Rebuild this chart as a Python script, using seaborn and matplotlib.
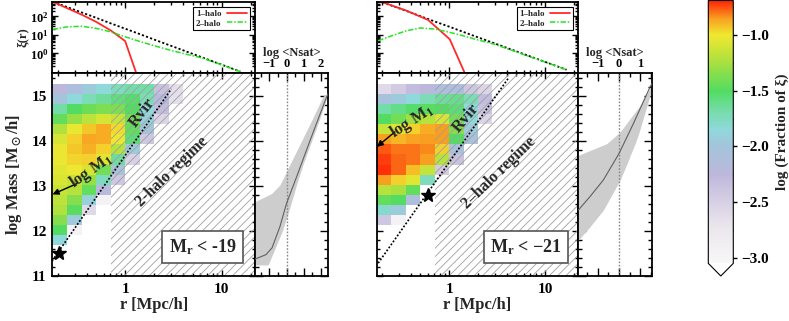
import numpy as np
import matplotlib
matplotlib.use("Agg")
import matplotlib.pyplot as plt
import seaborn as sns
from matplotlib.colors import LinearSegmentedColormap, Normalize
from matplotlib.ticker import (FixedLocator, MultipleLocator, LogLocator,
                               NullFormatter, FuncFormatter, LogFormatterMathtext)
from matplotlib.lines import Line2D

nan = np.nan

# ---------------- data ----------------
# bins of the fraction map (log r, log M)
logr_edges = [-0.75, -0.60, -0.45, -0.30, -0.15, 0.00, 0.15, 0.30, 0.45, 0.60]
mass_edges = [15.275, 15.05, 14.825, 14.60, 14.375, 14.15, 13.925, 13.70, 13.475,
              13.25, 13.025, 12.80, 12.575, 12.35, 12.125, 11.90, 11.675]

# log(fraction of xi), rows from the highest mass bin downwards
frac_m19 = [
    [-2.25, -2.10, -1.95, -1.85, -1.75, -1.68, -1.68, -2.35, -2.65],
    [-2.00, -1.85, -1.72, -1.65, -1.58, -1.52, -1.72, -2.20, -2.65],
    [-1.68, -1.50, -1.42, -1.38, -1.38, -1.50, -1.85, -2.30, nan],
    [-1.45, -1.30, -1.18, -1.10, -1.15, -1.40, -1.90, -2.55, nan],
    [-1.22, -1.03, -0.93, -0.88, -0.97, -1.45, -2.00, nan, nan],
    [-1.08, -0.95, -0.87, -0.88, -1.02, -1.55, -2.40, nan, nan],
    [-1.03, -0.93, -0.89, -0.95, -1.20, -1.95, nan, nan, nan],
    [-1.03, -0.96, -0.95, -1.05, -1.65, -2.50, nan, nan, nan],
    [-1.05, -1.02, -1.10, -1.40, -2.05, nan, nan, nan, nan],
    [-1.08, -1.15, -1.30, -1.75, -2.40, nan, nan, nan, nan],
    [-1.15, -1.20, -1.45, -2.20, nan, nan, nan, nan, nan],
    [-1.18, -1.35, -1.90, -2.95, nan, nan, nan, nan, nan],
    [-1.22, -1.48, -2.60, nan, nan, nan, nan, nan, nan],
    [-1.35, -1.95, nan, nan, nan, nan, nan, nan, nan],
    [-1.50, -2.95, nan, nan, nan, nan, nan, nan, nan],
    [-1.85, nan, nan, nan, nan, nan, nan, nan, nan],
]
frac_m21 = [
    [-2.60, -2.45, -2.30, -2.25, -2.10, -2.10, -2.40, -2.55, nan],
    [-2.05, -1.95, -1.85, -1.72, -1.65, -1.62, -1.72, -2.30, nan],
    [-1.68, -1.60, -1.52, -1.48, -1.50, -1.55, -1.85, -2.35, nan],
    [-1.50, -1.40, -1.28, -1.20, -1.10, -1.40, -1.85, -2.55, nan],
    [-1.15, -1.05, -0.95, -0.88, -0.85, -1.35, -1.95, nan, nan],
    [-0.85, -0.90, -0.86, -0.85, -0.85, -1.50, -2.05, nan, nan],
    [-0.76, -0.80, -0.80, -0.82, -0.95, -2.05, nan, nan, nan],
    [-0.72, -0.78, -0.80, -0.85, -1.20, -2.35, nan, nan, nan],
    [-0.70, -0.78, -0.92, -1.15, -2.45, nan, nan, nan, nan],
    [-0.85, -0.95, -1.05, -1.75, nan, nan, nan, nan, nan],
    [-1.20, -1.25, -1.45, nan, nan, nan, nan, nan, nan],
    [-1.45, -1.50, -2.10, nan, nan, nan, nan, nan, nan],
    [-1.80, -1.95, nan, nan, nan, nan, nan, nan, nan],
    [-2.40, -2.95, nan, nan, nan, nan, nan, nan, nan],
    [nan, nan, nan, nan, nan, nan, nan, nan, nan],
    [nan, nan, nan, nan, nan, nan, nan, nan, nan],
]

# correlation function panels (log r, log xi)
tot_lr_m19 = [-0.75, -0.6, -0.45, -0.3, -0.15, 0.0, 0.15, 0.3, 0.45, 0.6, 0.8, 1.0, 1.19]
tot_m19 = [2.80, 2.51, 2.22, 1.93, 1.63, 1.34, 1.05, 0.75, 0.46, 0.17, -0.22, -0.61, -0.98]
one_lr_m19 = [-0.75, -0.45, -0.3, -0.15, 0.0, 0.15]
one_m19 = [2.80, 2.10, 1.71, 1.25, 0.67, -1.60]
two_lr_m19 = [-0.75, -0.6, -0.45, -0.3, -0.15, 0.0, 0.15, 0.3, 0.45, 0.6, 0.8, 1.0, 1.19]
two_m19 = [1.30, 1.44, 1.47, 1.36, 1.17, 0.90, 0.65, 0.42, 0.20, 0.00, -0.25, -0.62, -0.99]

tot_lr_m21 = [-0.737, -0.6, -0.45, -0.3, -0.15, 0.0, 0.15, 0.3, 0.47, 0.7, 1.0, 1.22]
tot_m21 = [2.85, 2.59, 2.31, 2.02, 1.73, 1.45, 1.16, 0.87, 0.55, 0.11, -0.46, -0.88]
one_lr_m21 = [-0.737, -0.45, -0.218, 0.006, 0.2]
one_m21 = [2.85, 2.33, 1.81, 0.77, -1.50]
two_lr_m21 = [-0.737, -0.6, -0.45, -0.3, -0.15, 0.0, 0.15, 0.3, 0.47, 0.7, 1.0, 1.22]
two_m21 = [0.69, 0.95, 1.22, 1.38, 1.32, 1.15, 0.95, 0.73, 0.50, 0.08, -0.47, -0.88]

# log <Nsat>(M) with its uncertainty band
nsat_M_m19 = [11.37, 11.47, 11.62, 12.09, 12.61, 13.20, 14.00, 14.98, 15.10]
nsat_m19 = [-1.85, -1.20, -0.85, -0.39, 0.00, 0.59, 1.37, 2.35, 2.50]
band_M_m19 = [11.24, 11.50, 12.00, 12.50, 12.55, 12.64, 12.83, 13.02, 13.50, 14.00, 14.50, 15.00, 15.08]
band_lo_m19 = [-3.0, -3.0, -3.0, -3.0, -3.0, -1.90, -0.88, -0.39, 0.23, 0.88, 1.53, 2.15, 2.50]
band_hi_m19 = [-1.08, -0.79, -0.24, 0.18, 0.22, 0.29, 0.44, 0.58, 0.99, 1.47, 1.95, 2.40, 2.50]

nsat_M_m21 = [12.46, 12.76, 13.13, 13.72, 14.39, 15.20, 15.40]
nsat_m21 = [-1.92, -1.37, -0.74, 0.00, 0.68, 1.46, 1.70]
band_M_m21 = [11.50, 11.79, 12.09, 12.46, 13.13, 13.60, 13.68, 13.94, 14.20, 14.79, 15.24, 15.40]
band_lo_m21 = [-3.0, -3.0, -3.0, -3.0, -3.0, -3.0, -1.92, -0.58, 0.05, 0.99, 1.54, 1.75]
band_hi_m21 = [-2.50, -1.92, -1.37, -0.74, 0.05, 0.47, 0.53, 0.76, 0.95, 1.32, 1.61, 1.75]

# virial radius lines, characteristic points, arrows
rvir_r_m19 = [0.176, 3.0]
rvir_M_m19 = [11.33, 15.16]
rvir_r_m21 = [0.183, 4.1]
rvir_M_m21 = [11.28, 15.39]
star_m19 = (0.209, 11.51)
star_m21 = (0.605, 12.79)
logM1_m19 = 12.81
logM1_m21 = 13.87

cbar_ticks = [-3.0, -2.5, -2.0, -1.5, -1.0]
xi_ticks = [1, 10, 100]
r_ticks = [1, 10]
nsat_ticks_m19 = [-1, 0, 1, 2]
nsat_ticks_m21 = [-1, 0, 1]
panel_labels = ["M$_r$ < -19", "M$_r$ < \u221221"]

# ---------------- style ----------------
sns.set_theme(style="ticks")
plt.rcParams.update({
    "font.family": ["Liberation Serif", "DejaVu Serif"],
    "font.weight": "bold",
    "axes.labelweight": "bold",
    "mathtext.fontset": "custom",
    "mathtext.rm": "Liberation Serif:bold",
    "mathtext.it": "Liberation Serif:italic:bold",
    "mathtext.bf": "Liberation Serif:bold",
    "mathtext.default": "rm",
    "mathtext.fallback": "stix",
    "axes.unicode_minus": True,
    "hatch.linewidth": 0.6,
    "hatch.color": "#a0a0a0",
    "axes.edgecolor": "black",
    "axes.linewidth": 1.3,
    "xtick.color": "black",
    "ytick.color": "black",
})

cmap = LinearSegmentedColormap.from_list("frac", [
    (0.000, "#f7f7f7"), (0.127, "#ece8ee"), (0.233, "#d8d0e4"),
    (0.339, "#bcb8dc"), (0.445, "#a4c4dc"), (0.508, "#90d8dc"),
    (0.572, "#78dcb0"), (0.657, "#52dc62"), (0.763, "#a8e040"),
    (0.869, "#f0e830"), (0.932, "#f8a020"), (1.000, "#ff2808")])
cmap.set_under("white")
cmap.set_bad((1, 1, 1, 0))
norm = Normalize(vmin=-3.05, vmax=-0.69)

W, H = 789, 321
fig = plt.figure(figsize=(W / 100, H / 100), dpi=100)


def rect(x0, y0, x1, y1):
    return [x0 / W, 1 - y1 / H, (x1 - x0) / W, (y1 - y0) / H]


def style(ax, maj=4.3, mnr=2.2):
    ax.tick_params(which="both", direction="in", top=True, right=True,
                   bottom=True, left=True, width=1.0, colors="black")
    ax.tick_params(which="major", length=maj)
    ax.tick_params(which="minor", length=mnr)
    for s in ax.spines.values():
        s.set_linewidth(1.3)
        s.set_color("black")


XLIM = (10 ** -0.753, 10 ** 1.342)
YLIM = (11.0, 15.52)


def xi_panel(ax, tl, tv, ol, ov, wl, wv, show_y):
    sns.lineplot(x=10 ** np.array(tl), y=10 ** np.array(tv), ax=ax, color="black",
                 lw=1.3, dashes=False, estimator=None, sort=False)
    ax.lines[-1].set_dashes((1.2, 1.2))
    sns.lineplot(x=10 ** np.array(ol), y=10 ** np.array(ov), ax=ax, color="#ff2a2a",
                 lw=1.3, estimator=None, sort=False)
    sns.lineplot(x=10 ** np.array(wl), y=10 ** np.array(wv), ax=ax, color="#22e622",
                 lw=1.1, estimator=None, sort=False)
    ax.lines[-1].set_dashes((3.5, 1.2, 1, 1.2))
    ax.set_xscale("log")
    ax.set_yscale("log")
    ax.set_xlim(*XLIM)
    ax.set_ylim(10 ** -1.04, 10 ** 2.81)
    ax.xaxis.set_major_locator(FixedLocator(r_ticks))
    ax.xaxis.set_minor_locator(LogLocator(base=10, subs=np.arange(2, 10)))
    ax.xaxis.set_major_formatter(NullFormatter())
    ax.xaxis.set_minor_formatter(NullFormatter())
    ax.yaxis.set_major_locator(FixedLocator(xi_ticks))
    ax.yaxis.set_minor_locator(LogLocator(base=10, subs=np.arange(2, 10), numticks=20))
    ax.yaxis.set_minor_formatter(NullFormatter())
    style(ax)
    if show_y:
        ax.yaxis.set_major_formatter(LogFormatterMathtext())
        ax.tick_params(axis="y", labelsize=9, pad=2.5)
        ax.set_ylabel("\u03be(r)", fontsize=9, labelpad=1)
    else:
        ax.yaxis.set_major_formatter(NullFormatter())
    ax.set_xlabel("")
    handles = [Line2D([], [], color="#ff2a2a", lw=1.3),
               Line2D([], [], color="#22e622", lw=1.1, dashes=(3.5, 1.2, 1, 1.2))]
    leg = ax.legend(handles, ["1\u2013halo", "2\u2013halo"], loc="upper right",
                    fontsize=6.5, frameon=True, fancybox=False, edgecolor="black",
                    framealpha=1, markerfirst=False, handlelength=2.2,
                    borderpad=0.3, labelspacing=0.15, handletextpad=0.6,
                    borderaxespad=0.6)
    leg.get_frame().set_linewidth(0.8)


def main_panel(ax, frac, nrows, ncols, rv_r, rv_M, star, m1, texts, label, show_y):
    Z = np.ma.masked_invalid(np.array(frac)[:nrows, :ncols])
    X = 10 ** np.array(logr_edges[:ncols + 1])
    Y = np.array(mass_edges[:nrows + 1])
    mesh = ax.pcolormesh(X, Y, Z, cmap=cmap, norm=norm, shading="flat", zorder=1)
    ax.set_xscale("log")
    ax.set_xlim(*XLIM)
    ax.set_ylim(*YLIM)
    ax.axvspan(10 ** -0.15, XLIM[1], facecolor="none", edgecolor="#a0a0a0",
               hatch="////", lw=0, zorder=2)
    ax.plot(rv_r, rv_M, color="black", lw=1.2, dashes=(1.1, 1.1), zorder=3)
    ax.plot([star[0]], [star[1]], marker="*", ms=10, color="black", zorder=4)
    (tx_m1, tx_rv, tx_2h) = texts
    ax.annotate("", xy=(XLIM[0] * 1.005, m1), xytext=(tx_m1[3], tx_m1[4]),
                arrowprops=dict(arrowstyle="-|>", color="black", lw=1.0,
                                mutation_scale=9, shrinkA=0, shrinkB=0), zorder=5)
    ax.text(tx_m1[0], tx_m1[1], "log M$_1$", rotation=tx_m1[2], fontsize=12,
            ha="center", va="center", rotation_mode="anchor", zorder=5)
    ax.text(tx_rv[0], tx_rv[1], "Rvir", rotation=tx_rv[2], fontsize=12,
            ha="center", va="center", rotation_mode="anchor", zorder=5)
    ax.text(tx_2h[0], tx_2h[1], tx_2h[3], rotation=tx_2h[2], fontsize=11.5,
            ha="center", va="center", rotation_mode="anchor", zorder=5)
    ax.text(6.3, 11.64, label, fontsize=13, ha="center", va="center", zorder=6,
            bbox=dict(boxstyle="square,pad=0.35", fc="white", ec="#555555", lw=1.2))
    ax.xaxis.set_major_locator(FixedLocator(r_ticks))
    ax.xaxis.set_minor_locator(LogLocator(base=10, subs=np.arange(2, 10)))
    ax.xaxis.set_major_formatter(FuncFormatter(lambda v, p: f"{v:g}"))
    ax.xaxis.set_minor_formatter(NullFormatter())
    ax.yaxis.set_major_locator(MultipleLocator(1))
    ax.yaxis.set_minor_locator(MultipleLocator(0.2))
    style(ax)
    ax.tick_params(axis="x", labelsize=11, pad=5)
    ax.set_xlabel("r [Mpc/h]", fontsize=12, labelpad=1)
    if show_y:
        ax.tick_params(axis="y", labelsize=11, pad=4)
        ax.set_ylabel("log Mass [M$_\\odot$/h]", fontsize=12, labelpad=5)
    else:
        ax.tick_params(axis="y", labelleft=False)
    return mesh


def side_panel(ax, lM, lN, bM, blo, bhi, xlim, ticks):
    ax.fill_betweenx(bM, blo, bhi, color="#cdcdcd", lw=0, zorder=1)
    ax.axvline(0, color="#888888", lw=1.0, dashes=(1.2, 1.2), zorder=2)
    sns.lineplot(x=lN, y=lM, ax=ax, color="#606060", lw=0.8, estimator=None,
                 sort=False, zorder=3)
    ax.set_xlim(*xlim)
    ax.set_ylim(*YLIM)
    ax.xaxis.set_major_locator(FixedLocator(ticks))
    ax.xaxis.set_minor_locator(MultipleLocator(0.5))
    ax.yaxis.set_major_locator(MultipleLocator(1))
    ax.yaxis.set_minor_locator(MultipleLocator(0.2))
    style(ax, maj=5.5, mnr=3.0)
    ax.tick_params(axis="x", labelbottom=False, labeltop=True, labelsize=9, pad=2)
    ax.tick_params(axis="y", labelleft=False)
    ax.xaxis.set_label_position("top")
    ax.set_xlabel("log <Nsat>", fontsize=9, labelpad=1.5)
    ax.set_ylabel("")


ax_tL = fig.add_axes(rect(52.3, 1.5, 255, 72.7))
ax_mL = fig.add_axes(rect(52.3, 72.7, 255, 275.7))
ax_sL = fig.add_axes(rect(255, 72.7, 328.3, 275.7))
ax_tR = fig.add_axes(rect(376.7, 1.5, 578.3, 72.7))
ax_mR = fig.add_axes(rect(376.7, 72.7, 578.3, 275.7))
ax_sR = fig.add_axes(rect(578.3, 72.7, 651.7, 275.7))
cax = fig.add_axes(rect(708.3, 0.5, 733.3, 276))

xi_panel(ax_tL, tot_lr_m19, tot_m19, one_lr_m19, one_m19, two_lr_m19, two_m19, True)
xi_panel(ax_tR, tot_lr_m21, tot_m21, one_lr_m21, one_m21, two_lr_m21, two_m21, False)

mesh = main_panel(ax_mL, frac_m19, 16, 9, rvir_r_m19, rvir_M_m19, star_m19, logM1_m19,
                  ((0.447, 13.33, 35, 0.317, 13.05),
                   (1.49, 14.64, 53),
                   (3.09, 13.31, 44, "2-halo regime")),
                  panel_labels[0], True)
main_panel(ax_mR, frac_m21, 14, 8, rvir_r_m21, rvir_M_m21, star_m21, logM1_m21,
           ((0.406, 14.44, 33, 0.272, 14.20),
            (1.51, 14.50, 50),
            (3.29, 13.28, 44, "2\u2013halo regime")),
           panel_labels[1], False)

side_panel(ax_sL, nsat_M_m19, nsat_m19, band_M_m19, band_lo_m19, band_hi_m19,
           (-1.85, 2.45), nsat_ticks_m19)
side_panel(ax_sR, nsat_M_m21, nsat_m21, band_M_m21, band_lo_m21, band_hi_m21,
           (-1.92, 1.54), nsat_ticks_m21)

cb = fig.colorbar(mesh, cax=cax, extend="min", extendfrac=0.048)
cb.set_ticks(cbar_ticks)
cb.ax.yaxis.set_major_formatter(FuncFormatter(lambda v, p: f"{v:.1f}".replace("-", "\u2212")))
cb.ax.yaxis.set_minor_locator(MultipleLocator(0.25))
cb.ax.tick_params(which="major", direction="inout", length=6, width=1.0, labelsize=11, pad=3)
cb.ax.tick_params(which="minor", direction="in", length=3.5, width=1.0)
cb.outline.set_linewidth(0.8)
cb.set_label("log (Fraction of \u03be)", fontsize=11, labelpad=4)

fig.savefig("out.png", dpi=100)
